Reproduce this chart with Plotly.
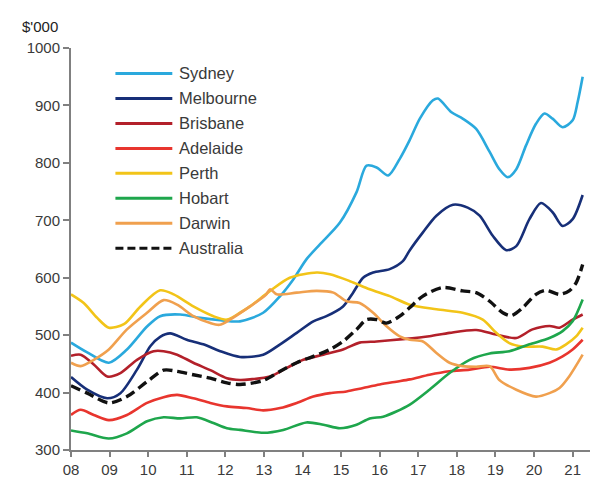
import plotly.graph_objects as go

# ---------------- data ----------------
series_names = ["Sydney", "Melbourne", "Brisbane", "Adelaide", "Perth", "Hobart", "Darwin", "Australia"]

sydney_x = [2008.0, 2008.42, 2008.98, 2009.45, 2009.97, 2010.31, 2010.83, 2011.35, 2011.87, 2012.38,
            2012.98, 2013.42, 2013.76, 2014.1, 2014.45, 2014.97, 2015.4, 2015.66, 2015.92, 2016.22,
            2016.52, 2016.78, 2017.04, 2017.38, 2017.51, 2017.86, 2018.15, 2018.5, 2018.85, 2019.1,
            2019.32, 2019.54, 2019.79, 2020.05, 2020.27, 2020.48, 2020.74, 2021.0, 2021.13, 2021.26]
sydney_y = [487, 470, 452, 475, 515, 533, 536, 530, 526, 524,
            539, 568, 597, 632, 658, 696, 749, 795, 792, 778,
            807, 840, 877, 909, 912, 888, 877, 859, 819, 789,
            775, 789, 830, 868, 886, 877, 862, 874, 906, 950]

melbourne_x = [2008.0, 2008.42, 2008.94, 2009.28, 2009.71, 2010.06, 2010.31, 2010.57, 2011.0, 2011.43,
               2011.87, 2012.38, 2012.98, 2013.42, 2013.85, 2014.28, 2014.62, 2015.05, 2015.31, 2015.57,
               2015.83, 2016.26, 2016.6, 2016.78, 2017.12, 2017.47, 2017.9, 2018.28, 2018.59, 2018.93,
               2019.28, 2019.54, 2019.88, 2020.18, 2020.48, 2020.74, 2021.0, 2021.26]
melbourne_y = [427, 405, 390, 399, 440, 481, 497, 503, 492, 484,
               472, 462, 466, 484, 504, 524, 533, 550, 574, 600,
               609, 615, 629, 648, 679, 708, 727, 722, 708, 673,
               648, 655, 702, 730, 714, 690, 702, 744]

brisbane_x = [2008.0, 2008.25, 2008.59, 2008.94, 2009.28, 2009.71, 2010.14, 2010.4, 2010.75, 2011.17,
              2011.61, 2012.04, 2012.38, 2012.64, 2013.16, 2013.59, 2014.02, 2014.54, 2015.05, 2015.48,
              2015.92, 2016.6, 2017.29, 2017.81, 2018.5, 2019.02, 2019.54, 2019.96, 2020.4, 2020.66,
              2021.0, 2021.26]
brisbane_y = [464, 466, 449, 428, 434, 457, 472, 472, 466, 452,
              439, 425, 422, 423, 428, 443, 457, 466, 475, 487,
              489, 493, 498, 504, 509, 501, 495, 510, 516, 513,
              527, 536]

adelaide_x = [2008.0, 2008.25, 2008.59, 2008.98, 2009.45, 2009.97, 2010.4, 2010.75, 2011.17, 2011.61,
              2012.04, 2012.55, 2012.98, 2013.42, 2013.85, 2014.28, 2014.71, 2015.14, 2015.57, 2016.0,
              2016.43, 2016.78, 2017.29, 2017.81, 2018.33, 2018.85, 2019.36, 2019.88, 2020.4, 2020.74,
              2021.0, 2021.26]
adelaide_y = [361, 370, 361, 352, 361, 382, 392, 396, 390, 382,
              376, 373, 369, 373, 382, 393, 399, 402, 408, 414,
              419, 423, 431, 437, 440, 445, 440, 443, 452, 463,
              475, 492]

perth_x = [2008.0, 2008.33, 2008.68, 2008.98, 2009.37, 2009.8, 2010.31, 2010.66, 2011.17, 2011.69,
           2012.04, 2012.38, 2012.64, 2013.16, 2013.67, 2014.37, 2014.71, 2015.23, 2015.74, 2016.26,
           2016.78, 2017.47, 2018.15, 2018.67, 2019.02, 2019.36, 2019.71, 2020.22, 2020.57, 2020.83,
           2021.09, 2021.26]
perth_y = [571, 556, 530, 513, 519, 550, 578, 571, 550, 533,
           527, 539, 550, 577, 600, 609, 606, 594, 580, 568,
           553, 545, 539, 527, 504, 486, 480, 480, 475, 484,
           498, 513]

hobart_x = [2008.0, 2008.42, 2008.98, 2009.45, 2009.97, 2010.4, 2010.83, 2011.26, 2011.69, 2012.04,
            2012.38, 2012.98, 2013.5, 2014.1, 2014.54, 2014.97, 2015.4, 2015.74, 2016.09, 2016.43,
            2016.78, 2017.29, 2017.81, 2018.33, 2018.85, 2019.36, 2019.88, 2020.4, 2020.74, 2021.0,
            2021.26]
hobart_y = [334, 329, 320, 329, 350, 357, 355, 357, 347, 338,
            335, 330, 335, 348, 344, 338, 344, 355, 358, 367,
            379, 405, 434, 457, 468, 472, 484, 495, 507, 524,
            562]

darwin_x = [2008.0, 2008.25, 2008.59, 2008.98, 2009.45, 2009.97, 2010.4, 2010.75, 2011.17, 2011.61,
            2011.85, 2012.12, 2012.64, 2013.05, 2013.16, 2013.33, 2013.85, 2014.37, 2014.8, 2015.14,
            2015.48, 2015.83, 2016.17, 2016.52, 2016.78, 2017.12, 2017.47, 2017.81, 2018.15, 2018.5,
            2018.85, 2019.1, 2019.54, 2020.05, 2020.4, 2020.66, 2020.91, 2021.26]
darwin_y = [452, 446, 457, 475, 510, 539, 561, 553, 533, 521,
            518, 527, 550, 570, 580, 571, 574, 577, 574, 559,
            556, 539, 516, 498, 492, 489, 469, 452, 446, 445,
            446, 422, 405, 393, 399, 408, 428, 466]

australia_x = [2008.0, 2008.42, 2008.98, 2009.45, 2009.97, 2010.4, 2010.75, 2011.17, 2011.61, 2012.04,
               2012.38, 2012.98, 2013.42, 2013.85, 2014.28, 2014.71, 2015.05, 2015.4, 2015.66, 2015.92,
               2016.17, 2016.52, 2016.78, 2017.12, 2017.64, 2018.15, 2018.5, 2018.85, 2019.19, 2019.41,
               2019.71, 2020.05, 2020.31, 2020.66, 2020.91, 2021.09, 2021.26]
australia_y = [412, 399, 382, 393, 419, 439, 437, 431, 425, 417,
               414, 421, 437, 452, 463, 475, 489, 510, 527, 527,
               521, 533, 548, 568, 583, 577, 574, 559, 539, 534,
               548, 571, 578, 571, 577, 591, 623]

tick_years = list(range(2008, 2022))
tick_labels = ["08", "09", "10", "11", "12", "13", "14", "15", "16", "17", "18", "19", "20", "21"]
y_ticks = [300, 400, 500, 600, 700, 800, 900, 1000]
y_unit = "$'000"

# ---------------- styling ----------------
colors = ["#2aa9dd", "#172f78", "#b3202a", "#e8352e", "#f2c418", "#1ea64c", "#f0a04e", "#111111"]
dashes = ["solid"] * 7 + ["10px,5px"]
widths = [2.6] * 7 + [3.4]
FONT = "Liberation Sans, Arial, Helvetica, sans-serif"
TXT = "#3a3a3a"
AX = "#808080"

xs = [sydney_x, melbourne_x, brisbane_x, adelaide_x, perth_x, hobart_x, darwin_x, australia_x]
ys = [sydney_y, melbourne_y, brisbane_y, adelaide_y, perth_y, hobart_y, darwin_y, australia_y]

fig = go.Figure()
for name, x, y, c, d, w in zip(series_names, xs, ys, colors, dashes, widths):
    fig.add_trace(go.Scatter(
        x=x, y=y, name=name, mode="lines",
        line=dict(color=c, width=w, dash=d, shape="spline", smoothing=0.8),
        showlegend=False,
    ))

W, H = 605, 477
L, R, T, B = 70.5, 14.5, 47.5, 27
pw, ph = W - L - R, H - T - B

def px_to_paper(px, py):
    return (px - L) / pw, (H - B - py) / ph

# custom legend (long line samples as in the reference)
shapes = []
annotations = []
for i, (name, c, d) in enumerate(zip(series_names, colors, dashes)):
    py = 73 + 25 * i
    x0, yy = px_to_paper(115, py)
    x1, _ = px_to_paper(172, py)
    shapes.append(dict(type="line", xref="paper", yref="paper", x0=x0, x1=x1, y0=yy, y1=yy,
                       line=dict(color=c, width=3, dash=("8px,4px" if d != "solid" else "solid"))))
    tx, _ = px_to_paper(177, py)
    annotations.append(dict(xref="paper", yref="paper", x=tx, y=yy, text=name, showarrow=False,
                            xanchor="left", yanchor="middle",
                            font=dict(family=FONT, size=16.5, color=TXT)))

ux, uy = px_to_paper(19, 26)
annotations.append(dict(xref="paper", yref="paper", x=ux, y=uy, text=y_unit, showarrow=False,
                        xanchor="left", yanchor="middle",
                        font=dict(family=FONT, size=15, color="#222222")))

fig.update_layout(
    template="none",
    width=W, height=H,
    margin=dict(l=L, r=R, t=T, b=B, pad=0, autoexpand=False),
    paper_bgcolor="white", plot_bgcolor="white",
    showlegend=False,
    shapes=shapes, annotations=annotations,
    font=dict(family=FONT, size=15, color=TXT),
)
fig.update_xaxes(
    automargin=False,
    range=[2008, 2021.45], tickvals=tick_years, ticktext=tick_labels,
    showgrid=False, zeroline=False, showline=True, linecolor=AX, linewidth=2,
    ticks="outside", ticklen=5, tickwidth=1.5, tickcolor=AX,
    tickfont=dict(family=FONT, size=15, color=TXT),
)
fig.update_yaxes(
    automargin=False,
    range=[300, 1000], tickvals=y_ticks,
    showgrid=False, zeroline=False, showline=True, linecolor=AX, linewidth=2,
    ticks="outside", ticklen=6, tickwidth=1.5, tickcolor=AX,
    tickfont=dict(family=FONT, size=15, color=TXT),
)

fig.write_html("out.html")
